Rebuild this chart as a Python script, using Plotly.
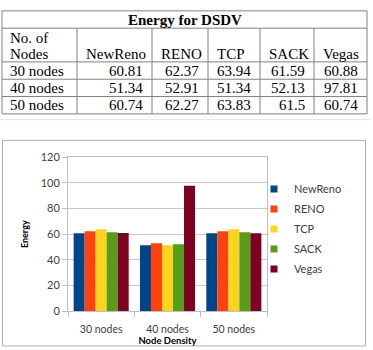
import plotly.graph_objects as go

W, H = 373, 350

categories = ["30 nodes", "40 nodes", "50 nodes"]
series_names = ["NewReno", "RENO", "TCP", "SACK", "Vegas"]
newreno = [60.81, 51.34, 60.74]
reno = [62.37, 52.91, 62.27]
tcp = [63.94, 51.34, 63.83]
sack = [61.59, 52.13, 61.5]
vegas = [60.88, 97.81, 60.74]
table_title = "Energy for DSDV"
first_col_header = ["No. of", "Nodes"]
x_title = "Node Density"
y_title = "Energy"
colors = ["#004586", "#ff420e", "#ffd320", "#579d1c", "#7e0021"]

series = [newreno, reno, tcp, sack, vegas]

# table layout (pixels)
col_edges = [2, 77, 152, 208, 260, 314, 367]
row_edges = [4, 22, 57, 75, 93, 111]


def px(x):
    return x / W


def py(y):
    return 1 - y / H


def fmt(v):
    return f"{v:.2f}".rstrip("0").rstrip(".")


fig = go.Figure()

# ---- bars ----
for name, vals, c in zip(series_names, series, colors):
    fig.add_trace(go.Bar(x=categories, y=vals, name=name, marker_color=c,
                         marker_line_width=0, showlegend=False))
    fig.add_trace(go.Scatter(x=[None], y=[None], mode="markers", name=name,
                             marker=dict(symbol="square", size=7, color=c),
                             showlegend=True, legendgroup=name))

tline = dict(color="#808080", width=1)
shapes = []
annotations = []
tfont = dict(family="Liberation Serif", size=15, color="black")


def ann(text, x, y, xanchor, font=tfont):
    annotations.append(dict(text=text, xref="paper", yref="paper", x=px(x), y=py(y),
                            xanchor=xanchor, yanchor="middle", showarrow=False,
                            borderpad=0, font=font))


# table grid
shapes.append(dict(type="rect", xref="paper", yref="paper",
                   x0=px(col_edges[0]), x1=px(col_edges[-1]),
                   y0=py(row_edges[-1]), y1=py(row_edges[0]), line=tline))
for y in row_edges[1:-1]:
    shapes.append(dict(type="line", xref="paper", yref="paper",
                       x0=px(col_edges[0]), x1=px(col_edges[-1]),
                       y0=py(y), y1=py(y), line=tline))
for x in col_edges[1:-1]:
    shapes.append(dict(type="line", xref="paper", yref="paper",
                       x0=px(x), x1=px(x), y0=py(row_edges[-1]), y1=py(row_edges[1]),
                       line=tline))
# faint shadow under the table
shapes.append(dict(type="line", xref="paper", yref="paper", x0=px(0), x1=px(370),
                   y0=py(117), y1=py(117), line=dict(color="#e3e3e3", width=1)))

# table title
ann("<b>" + table_title + "</b>", (col_edges[0] + col_edges[-1]) / 2,
    (row_edges[0] + row_edges[1]) / 2, "center")
# header row
ann(first_col_header[0], col_edges[0] + 7, row_edges[1] + 10, "left")
ann(first_col_header[1], col_edges[0] + 7, row_edges[2] - 8, "left")
for i, n in enumerate(series_names):
    ann(n, col_edges[i + 1] + 8, row_edges[2] - 8, "left")
# body rows
for r, cat in enumerate(categories):
    yc = (row_edges[r + 2] + row_edges[r + 3]) / 2
    ann(cat, col_edges[0] + 7, yc, "left")
    for i, s in enumerate(series):
        ann(fmt(s[r]), col_edges[i + 2] - 8, yc, "right")

# chart border
shapes.append(dict(type="rect", xref="paper", yref="paper", x0=px(2.5), x1=px(365.5),
                   y0=py(352), y1=py(138.5), line=dict(color="#b0b0b0", width=1)))

fig.update_layout(
    width=W, height=H,
    margin=dict(l=0, r=0, t=0, b=0),
    paper_bgcolor="white", plot_bgcolor="white",
    barmode="group", bargap=0.17, bargroupgap=0,
    font=dict(family="Lato", color="#404040"),
    shapes=shapes,
    annotations=annotations,
    legend=dict(x=px(254), y=py(174), xanchor="left", yanchor="top",
                font=dict(family="Lato", size=11, color="#404040"),
                bgcolor="rgba(0,0,0,0)", tracegroupgap=1, itemwidth=30),
    xaxis=dict(domain=[px(68), px(267)], type="category",
               showline=True, linecolor="#bfbfbf", mirror=True,
               ticks="outside", tickson="boundaries", ticklen=5, tickcolor="#bfbfbf",
               tickfont=dict(size=10.5, color="#404040"), ticklabelstandoff=8,
               title=dict(text="<b>" + x_title + "</b>",
                          font=dict(size=9.5, color="#000000"), standoff=0)),
    yaxis=dict(domain=[py(316), py(156)], range=[0, 120], dtick=20,
               showline=True, linecolor="#bfbfbf", mirror=True,
               gridcolor="#c8c8c8", zeroline=False,
               ticks="outside", ticklen=5, tickcolor="#bfbfbf",
               tickfont=dict(size=11, color="#404040"),
               title=dict(text="<b>" + y_title + "</b>", font=dict(size=9, color="#000000"),
                          standoff=10)),
)

fig.write_html("out.html")
